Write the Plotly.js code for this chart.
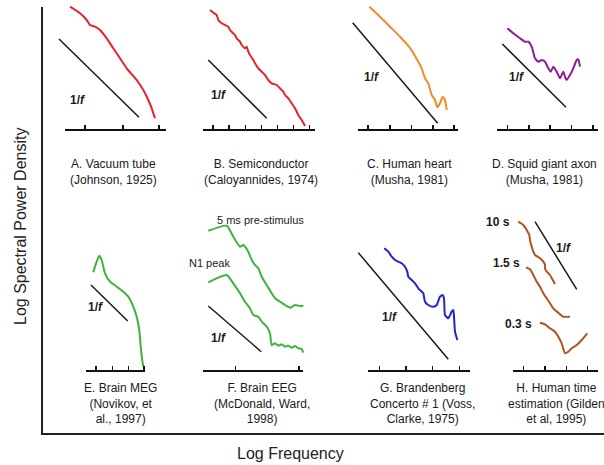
<!DOCTYPE html>
<html><head><meta charset="utf-8">
<script src="https://cdn.plot.ly/plotly-3.0.1.min.js"></script>
<style>html,body{margin:0;padding:0;background:#fff}#chart{width:604px;height:465px}</style>
</head><body><div id="chart"></div>
<script>
// ---------- DATA (local units: x = log-frequency offset, y = log power above each panel's frequency axis) ----------
const aX = [5,15,21.7,25,30,35,41.7,48.3,55,61.7,71.7,78.3,83.3,86.7,90];
const aY = [122.3,115.7,109,104,102.3,99,90.7,80.7,70.7,60.7,49,39,29,20.7,10.7];
const aRefX = [-6,74], aRefY = [90,11.7];
const aTicks = [20,58,94];

const bX = [7,10.3,13.7,15.3,18.7,22,25.3,27,30.3,32,33.7,37,38.7,42,43.7,45.3,47,50.3,52,55.3,58.7,62,65.3,68.7,73.7,77,80.3,82,85.3,88.7,92,95.3,98.7,102];
const bY = [119,116.3,114,109,105.7,104,102.3,99,95.7,94,90.7,87.3,84,80.7,82.3,77.3,74,69,65.7,60.7,57.3,54,49,45.7,44,40.7,37.3,34,30.7,25.7,20.7,14,9,3];
const bRefX = [5.3,63.7], bRefY = [69,10.7];
const bTicks = [10,26,42.5,58.5,74.5,90.5,106.5];

const cX = [11.3,22,32,42,52.3,60.3,63.7,67,70.3,73.7,77,79.3,82,84.7,87,88.7];
const cY = [122.3,112.3,102.3,92.3,80.7,67.3,60.7,50.7,45.7,34,29,21.7,25.7,32.3,29,19];
const cRefX = [-5.3,79.7], cRefY = [106.3,5.7];
const cTicks = [10,32,53.5,75,96];

const dX = [10.3,16.3,23,28,31.3,34.7,38,41.3,44.7,48,51.3,53.7,56.3,59.7,63,66.3,68,69.7,73,76.3,79.7,81.3,83];
const dY = [100.7,95.7,90.7,87.3,87.3,82.3,70.7,67.3,69,67.3,60.7,57.3,62.3,57.3,50.7,57.3,52.3,49,54,60.7,69,69.7,62.3];
const dRefX = [5.3,69], dRefY = [85,21.7];
const dTicks = [10.5,32,53,74.5,96];

const eX = [7.3,10.7,13.3,15.7,19,24,30.7,37.3,42.3,47.3,50.7,53.3,54.7,56.7,58];
const eY = [97.7,108.3,114.3,110,96.7,88.3,83.3,78.3,73.3,63.3,53.3,40,23.3,6.7,1.7];
const eRefX = [5,41.7], eRefY = [85,49];
const eTicks = [10,26.7,42.3,58];

const fPreX = [5.3,23.7,30.3,37,40.3,45.3,48.7,52,55.3,58.7,63.7,68.7,72,77,82,87,92,97,100.3];
const fPreY = [139.3,144.3,133.3,123.3,125,118.3,110,105,101.7,93.3,85,76.7,71.7,68.3,65,62.3,65,64,64];
const fN1X = [5.3,23.7,30.3,37,42,47,50.3,55.3,58.7,63.7,67,68.7,72,75.3,78.7,82,85.3,88.7,92,95.3,98.7,100.3];
const fN1Y = [87.7,95,86.7,76.7,68.3,61.7,55,53.3,48.3,43.3,36.7,25,26.7,24.3,25.7,23.3,24.3,22.3,24,21.7,21,17.3];
const fRefX = [5.3,58.3], fRefY = [64,18.3];
const fTicks = [32.3,96];

const gX = [16.3,20.3,23.7,27,30.3,33.7,37,39.3,40.3,43.7,47,50.3,53.7,55.3,57,60.3,65.3,68.7,72,74.7,76,77,80.3,83.7,85.3,86,87,89.3];
const gY = [121.7,118.3,113.3,110,108.3,106.7,103.3,98.3,93.3,90,86.7,81.7,78.3,76.7,68.3,65,63.3,65,73.3,75,71.7,55,51.7,58.3,60,53.3,38.3,30];
const gRefX = [-9.7,80.3], gRefY = [117.3,10.7];
const gTicks = [11.3,38,64.7,91.3];

const h10X = [5.3,10.3,13.7,16.3,17,18.7,20.3,22,27,30.3,32,32,33.7,37,39.7,42];
const h10Y = [148.3,145,140,135,130,123.3,118.3,115,111.7,108.3,105,101.7,98.3,95,90,86];
const h15X = [13,17,20.3,23.7,27,30.3,33.7,37,40.3,45.3,50.3,57];
const h15Y = [102.7,100.7,95,88.3,83.3,76.7,71.7,66.7,61.7,57.3,53.3,53.3];
const h03X = [27,32,37,42,45.3,48.7,52,55.3,58.7,63.7,68.7,74.3];
const h03Y = [47.3,45.7,41.7,38.3,33.3,26.7,16.7,18.3,21.7,25,30,36.7];
const hRefX = [22,63.7], hRefY = [148.3,80.7];
const hTicks = [10.3,32,53.7,74.3];

const captions = [
  ["A. Vacuum tube","(Johnson, 1925)"],
  ["B. Semiconductor","(Caloyannides, 1974)"],
  ["C. Human heart","(Musha, 1981)"],
  ["D. Squid giant axon","(Musha, 1981)"],
  ["E. Brain MEG","(Novikov, et","al., 1997)"],
  ["F. Brain EEG","(McDonald, Ward,","1998)"],
  ["G. Brandenberg","Concerto # 1 (Voss,","Clarke, 1975)"],
  ["H. Human time","estimation (Gilden","et al, 1995)"]
];
const xTitle = "Log Frequency";
const yTitle = "Log Spectral Power Density";

// ---------- LAYOUT GEOMETRY (pixels) ----------
const W = 604, H = 465, ML = 43, MB = 32, PW = W - ML, PH = H - MB;
const px2x = p => (p - ML) / PW;
const py2y = p => (PH - p) / PH;
const FONT = "Liberation Sans, Arial, sans-serif";

const panels = [
  {bx0:65,  bx1:166, by:129, dx0:55,  dx1:168, dyt:2,   cap:[113,172],
   series:[{x:aX,y:aY,c:'#e3242b'}], ref:[aRefX,aRefY], ticks:aTicks, lab:[12,29], extra:[]},
  {bx0:203, bx1:315, by:129, dx0:198, dx1:316, dyt:2,   cap:[261,172],
   series:[{x:bX,y:bY,c:'#e3242b'}], ref:[bRefX,bRefY], ticks:bTicks, lab:[15,34], extra:[]},
  {bx0:358, bx1:458, by:129, dx0:348, dx1:460, dyt:2,   cap:[409,172],
   series:[{x:cX,y:cY,c:'#f28a2a'}], ref:[cRefX,cRefY], ticks:cTicks, lab:[13.7,52.3], extra:[]},
  {bx0:497, bx1:598, by:129, dx0:494, dx1:600, dyt:2,   cap:[544.5,172],
   series:[{x:dX,y:dY,c:'#8e1b97'}], ref:[dRefX,dRefY], ticks:dTicks, lab:[19.7,52.3], extra:[]},
  {bx0:86,  bx1:145, by:370, dx0:80,  dx1:150, dyt:240, cap:[120,403.3],
   series:[{x:eX,y:eY,c:'#3cb43c'}], ref:[eRefX,eRefY], ticks:eTicks, lab:[9,63.3], extra:[]},
  {bx0:203, bx1:303, by:370, dx0:185, dx1:310, dyt:205, cap:[262,403.3],
   series:[{x:fPreX,y:fPreY,c:'#3cb43c'},{x:fN1X,y:fN1Y,c:'#3cb43c'}], ref:[fRefX,fRefY], ticks:fTicks, lab:[15.3,32.5],
   extra:[{t:"5 ms pre-stimulus",x:57,y:150,b:false},{t:"N1 peak",x:6,y:107.3,b:false}]},
  {bx0:368, bx1:470, by:370, dx0:352, dx1:475, dyt:235, cap:[422.5,403.3],
   series:[{x:gX,y:gY,c:'#2323cc'}], ref:[gRefX,gRefY], ticks:gTicks, lab:[21.3,52.7], extra:[]},
  {bx0:513, bx1:598, by:370, dx0:485, dx1:600, dyt:205, cap:[556,403.3],
   series:[{x:h10X,y:h10Y,c:'#ad5420'},{x:h15X,y:h15Y,c:'#ad5420'},{x:h03X,y:h03Y,c:'#ad5420'}],
   ref:[hRefX,hRefY], ticks:hTicks, lab:[50.3,121.7],
   extra:[{t:"10 s",x:-14.7,y:148.3,b:true},{t:"1.5 s",x:-6.3,y:107.3,b:true},{t:"0.3 s",x:5.3,y:46,b:true}]}
];

const traces = [{x:[],y:[],xaxis:'x',yaxis:'y',showlegend:false}];
const layout = {
  width: W, height: H,
  margin: {l: ML, r: 0, t: 0, b: MB, pad: 0},
  paper_bgcolor: '#fff', plot_bgcolor: 'rgba(0,0,0,0)',
  showlegend: false, hovermode: false,
  font: {family: FONT, color: '#222'},
  xaxis: {domain:[0,1], range:[0,1], showline:true, linewidth:2, linecolor:'#222', ticks:'',
          showticklabels:false, showgrid:false, zeroline:false, fixedrange:true, anchor:'y'},
  yaxis: {domain:[0, py2y(7)], range:[0,1], showline:true, linewidth:2, linecolor:'#222', ticks:'',
          showticklabels:false, showgrid:false, zeroline:false, fixedrange:true, anchor:'x'},
  annotations: []
};

panels.forEach((p, i) => {
  const n = i + 2, nb = i + 10;
  const xa = 'x' + n, ya = 'y' + n, xb = 'x' + nb;
  layout['xaxis' + n] = {domain:[px2x(p.dx0), px2x(p.dx1)], range:[p.dx0 - p.bx0, p.dx1 - p.bx0],
    visible:false, anchor:ya, fixedrange:true};
  layout['yaxis' + n] = {domain:[py2y(p.by), py2y(p.dyt)], range:[0, p.by - p.dyt],
    visible:false, anchor:xa, fixedrange:true};
  layout['xaxis' + nb] = {domain:[px2x(p.bx0), px2x(p.bx1)], range:[0, p.bx1 - p.bx0], anchor:ya,
    showline:true, linewidth:1.5, linecolor:'#111', ticks:'inside', ticklen:4, tickwidth:1.5, tickcolor:'#111',
    tickmode:'array', tickvals:p.ticks, showticklabels:false, showgrid:false, zeroline:false, fixedrange:true};
  traces.push({x:[], y:[], xaxis:xb, yaxis:ya, showlegend:false});
  // 1/f reference line
  traces.push({x:p.ref[0], y:p.ref[1], xaxis:xa, yaxis:ya, mode:'lines',
    line:{color:'#1a1a1a', width:1.5}, showlegend:false});
  p.series.forEach(s => traces.push({x:s.x, y:s.y, xaxis:xa, yaxis:ya, mode:'lines',
    line:{color:s.c, width:2, shape:'spline', smoothing:0.5}, showlegend:false}));
  layout.annotations.push({text:'<b>1/<i>f</i></b>', x:p.lab[0], y:p.lab[1], xref:xa, yref:ya,
    showarrow:false, font:{size:12, color:'#1a1a1a', family:FONT}});
  p.extra.forEach(e => layout.annotations.push({text: e.b ? '<b>'+e.t+'</b>' : e.t, x:e.x, y:e.y,
    xref:xa, yref:ya, showarrow:false, font:{size: e.b ? 12 : 11, color:'#1a1a1a', family:FONT}}));
  layout.annotations.push({text:captions[i].join('<br>'),
    x:px2x(p.cap[0]), y:py2y(p.cap[1]), xref:'paper', yref:'paper', align:'center',
    showarrow:false, xanchor:'center', yanchor:'middle', font:{size:12, color:'#1a1a1a', family:FONT}});
});

layout.annotations.push({text:xTitle, x:px2x(290), y:py2y(453), xref:'paper', yref:'paper',
  xanchor:'center', yanchor:'middle', showarrow:false, font:{size:16, color:'#222', family:FONT}});
layout.annotations.push({text:yTitle, x:px2x(20), y:py2y(227), xref:'paper', yref:'paper',
  xanchor:'center', yanchor:'middle', showarrow:false, textangle:-90, font:{size:16, color:'#222', family:FONT}});

Plotly.newPlot('chart', traces, layout, {displayModeBar:false, staticPlot:true});
</script>
</body></html>
